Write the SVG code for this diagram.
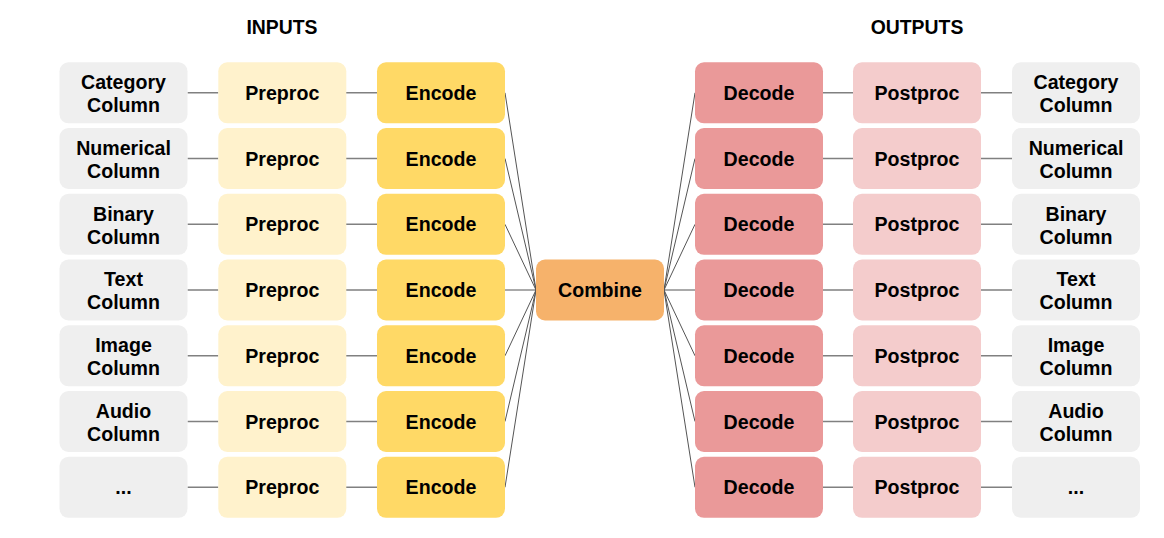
<svg xmlns="http://www.w3.org/2000/svg" width="1164" height="538" viewBox="0 0 1164 538">
  <style>
    .box { stroke: none; }
    .col { fill: #efefef; }
    .pre { fill: #fff2cc; }
    .enc { fill: #ffd966; }
    .cmb { fill: #f6b26b; }
    .dec { fill: #ea9999; }
    .post { fill: #f4cccc; }
    text { font-family: "Liberation Sans", Arial, sans-serif; font-weight: bold; font-size: 19.6px; fill: #000; text-anchor: middle; }
    .title { font-size: 19.4px; }
    .link { stroke: #808080; stroke-width: 1.4; fill: none; }
    .fan { stroke: #555; stroke-width: 1; fill: none; }
  </style>
  <defs>
    <rect id="b" width="128" height="61" rx="9" ry="9"/>
  </defs>

  <text class="title" x="282" y="33.5">INPUTS</text>
  <text class="title" x="917" y="33.5">OUTPUTS</text>

  <!-- connectors -->
  <g id="connectors">
    <!-- column -> preproc -> encode, decode -> postproc -> column -->
    <path class="link" d="M187.5 92.8H218.3M346 92.8H377M823 92.8H853M981 92.8H1012"/>
    <path class="link" d="M187.5 158.5H218.3M346 158.5H377M823 158.5H853M981 158.5H1012"/>
    <path class="link" d="M187.5 224.3H218.3M346 224.3H377M823 224.3H853M981 224.3H1012"/>
    <path class="link" d="M187.5 290H218.3M346 290H377M823 290H853M981 290H1012"/>
    <path class="link" d="M187.5 355.8H218.3M346 355.8H377M823 355.8H853M981 355.8H1012"/>
    <path class="link" d="M187.5 421.5H218.3M346 421.5H377M823 421.5H853M981 421.5H1012"/>
    <path class="link" d="M187.5 487.3H218.3M346 487.3H377M823 487.3H853M981 487.3H1012"/>
    <!-- encoders fan into combine -->
    <path class="fan" d="M505 92.8L536 290M505 158.5L536 290M505 224.3L536 290M505 290L536 290M505 355.8L536 290M505 421.5L536 290M505 487.3L536 290"/>
    <!-- combine fans out to decoders -->
    <path class="fan" d="M664 290L695 92.8M664 290L695 158.5M664 290L695 224.3M664 290L695 290M664 290L695 355.8M664 290L695 421.5M664 290L695 487.3"/>
  </g>

  <!-- input columns -->
  <g id="in-category"><use href="#b" class="col" x="59.5" y="62.3"/><text x="123.5" y="89">Category</text><text x="123.5" y="112">Column</text></g>
  <g id="in-numerical"><use href="#b" class="col" x="59.5" y="128"/><text x="123.5" y="154.7">Numerical</text><text x="123.5" y="177.7">Column</text></g>
  <g id="in-binary"><use href="#b" class="col" x="59.5" y="193.8"/><text x="123.5" y="220.5">Binary</text><text x="123.5" y="243.5">Column</text></g>
  <g id="in-text"><use href="#b" class="col" x="59.5" y="259.5"/><text x="123.5" y="286.2">Text</text><text x="123.5" y="309.2">Column</text></g>
  <g id="in-image"><use href="#b" class="col" x="59.5" y="325.3"/><text x="123.5" y="352">Image</text><text x="123.5" y="375">Column</text></g>
  <g id="in-audio"><use href="#b" class="col" x="59.5" y="391"/><text x="123.5" y="417.7">Audio</text><text x="123.5" y="440.7">Column</text></g>
  <g id="in-more"><use href="#b" class="col" x="59.5" y="456.8"/><text x="123.5" y="494">...</text></g>

  <!-- preprocessing -->
  <g id="preproc-1"><use href="#b" class="pre" x="218.3" y="62.3"/><text x="282.3" y="99.8">Preproc</text></g>
  <g id="preproc-2"><use href="#b" class="pre" x="218.3" y="128"/><text x="282.3" y="165.5">Preproc</text></g>
  <g id="preproc-3"><use href="#b" class="pre" x="218.3" y="193.8"/><text x="282.3" y="231.3">Preproc</text></g>
  <g id="preproc-4"><use href="#b" class="pre" x="218.3" y="259.5"/><text x="282.3" y="297">Preproc</text></g>
  <g id="preproc-5"><use href="#b" class="pre" x="218.3" y="325.3"/><text x="282.3" y="362.8">Preproc</text></g>
  <g id="preproc-6"><use href="#b" class="pre" x="218.3" y="391"/><text x="282.3" y="428.5">Preproc</text></g>
  <g id="preproc-7"><use href="#b" class="pre" x="218.3" y="456.8"/><text x="282.3" y="494.3">Preproc</text></g>

  <!-- encoders -->
  <g id="encode-1"><use href="#b" class="enc" x="377" y="62.3"/><text x="441" y="99.8">Encode</text></g>
  <g id="encode-2"><use href="#b" class="enc" x="377" y="128"/><text x="441" y="165.5">Encode</text></g>
  <g id="encode-3"><use href="#b" class="enc" x="377" y="193.8"/><text x="441" y="231.3">Encode</text></g>
  <g id="encode-4"><use href="#b" class="enc" x="377" y="259.5"/><text x="441" y="297">Encode</text></g>
  <g id="encode-5"><use href="#b" class="enc" x="377" y="325.3"/><text x="441" y="362.8">Encode</text></g>
  <g id="encode-6"><use href="#b" class="enc" x="377" y="391"/><text x="441" y="428.5">Encode</text></g>
  <g id="encode-7"><use href="#b" class="enc" x="377" y="456.8"/><text x="441" y="494.3">Encode</text></g>

  <!-- combiner -->
  <g id="combine"><use href="#b" class="cmb" x="536" y="259.5"/><text x="600" y="297">Combine</text></g>

  <!-- decoders -->
  <g id="decode-1"><use href="#b" class="dec" x="695" y="62.3"/><text x="759" y="99.8">Decode</text></g>
  <g id="decode-2"><use href="#b" class="dec" x="695" y="128"/><text x="759" y="165.5">Decode</text></g>
  <g id="decode-3"><use href="#b" class="dec" x="695" y="193.8"/><text x="759" y="231.3">Decode</text></g>
  <g id="decode-4"><use href="#b" class="dec" x="695" y="259.5"/><text x="759" y="297">Decode</text></g>
  <g id="decode-5"><use href="#b" class="dec" x="695" y="325.3"/><text x="759" y="362.8">Decode</text></g>
  <g id="decode-6"><use href="#b" class="dec" x="695" y="391"/><text x="759" y="428.5">Decode</text></g>
  <g id="decode-7"><use href="#b" class="dec" x="695" y="456.8"/><text x="759" y="494.3">Decode</text></g>

  <!-- postprocessing -->
  <g id="postproc-1"><use href="#b" class="post" x="853" y="62.3"/><text x="917" y="99.8">Postproc</text></g>
  <g id="postproc-2"><use href="#b" class="post" x="853" y="128"/><text x="917" y="165.5">Postproc</text></g>
  <g id="postproc-3"><use href="#b" class="post" x="853" y="193.8"/><text x="917" y="231.3">Postproc</text></g>
  <g id="postproc-4"><use href="#b" class="post" x="853" y="259.5"/><text x="917" y="297">Postproc</text></g>
  <g id="postproc-5"><use href="#b" class="post" x="853" y="325.3"/><text x="917" y="362.8">Postproc</text></g>
  <g id="postproc-6"><use href="#b" class="post" x="853" y="391"/><text x="917" y="428.5">Postproc</text></g>
  <g id="postproc-7"><use href="#b" class="post" x="853" y="456.8"/><text x="917" y="494.3">Postproc</text></g>

  <!-- output columns -->
  <g id="out-category"><use href="#b" class="col" x="1012" y="62.3"/><text x="1076" y="89">Category</text><text x="1076" y="112">Column</text></g>
  <g id="out-numerical"><use href="#b" class="col" x="1012" y="128"/><text x="1076" y="154.7">Numerical</text><text x="1076" y="177.7">Column</text></g>
  <g id="out-binary"><use href="#b" class="col" x="1012" y="193.8"/><text x="1076" y="220.5">Binary</text><text x="1076" y="243.5">Column</text></g>
  <g id="out-text"><use href="#b" class="col" x="1012" y="259.5"/><text x="1076" y="286.2">Text</text><text x="1076" y="309.2">Column</text></g>
  <g id="out-image"><use href="#b" class="col" x="1012" y="325.3"/><text x="1076" y="352">Image</text><text x="1076" y="375">Column</text></g>
  <g id="out-audio"><use href="#b" class="col" x="1012" y="391"/><text x="1076" y="417.7">Audio</text><text x="1076" y="440.7">Column</text></g>
  <g id="out-more"><use href="#b" class="col" x="1012" y="456.8"/><text x="1076" y="494">...</text></g>
</svg>
